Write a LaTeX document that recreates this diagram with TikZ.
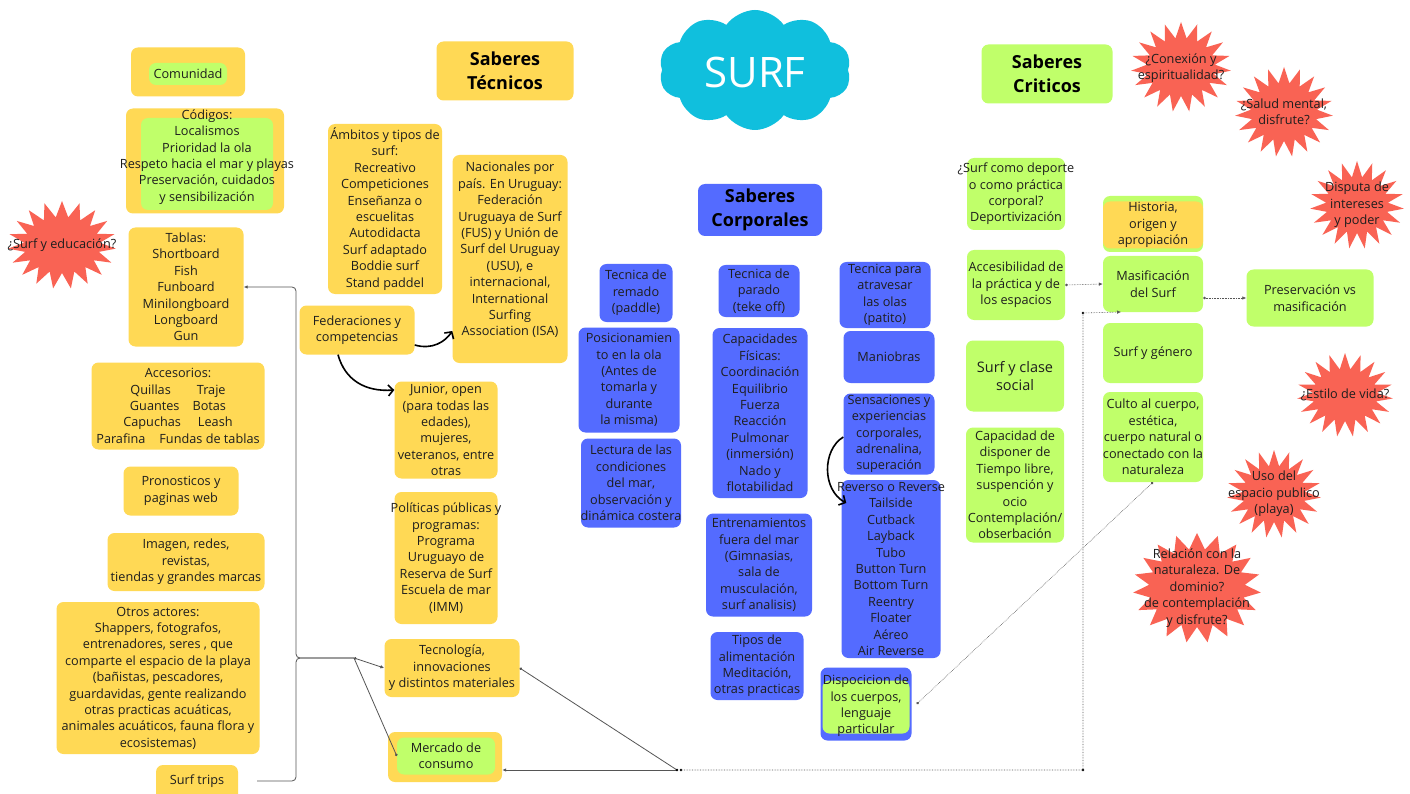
\documentclass[tikz,border=0pt]{standalone}
\usepackage{fontspec}
\setmainfont{Open Sans}
\usetikzlibrary{shapes.symbols,arrows.meta,calc}
\definecolor{yel}{HTML}{FFD955}
\definecolor{grn}{HTML}{C0FF6A}
\definecolor{blu}{HTML}{546BFF}
\definecolor{rdb}{HTML}{F96354}
\definecolor{cld}{HTML}{10BFDD}
\definecolor{ink}{HTML}{1E1E1E}
\definecolor{lin}{HTML}{555555}
\newcommand\fs{\fontsize{12.7}{16.4}\selectfont}
\newcommand\ttlfs{\fontsize{18}{23.5}\selectfont\bfseries}
\newcommand\bx[7]{%
  \node[#1, minimum width=#5pt, minimum height=#6pt] (#2) at (#3,#4) {};
  \node[txt] (#2t) at (#2.center) {#7};}
\tikzset{
  dotend/.tip={Circle[length=2.6pt]},
  arrend/.tip={Latex[length=4pt,width=3.5pt]}
}
\begin{document}
\begin{tikzpicture}[x=1pt,y=-1pt,
  base/.style={rounded corners=7pt, inner sep=0pt, draw=none},
  ybox/.style={base, fill=yel},
  gbox/.style={base, fill=grn},
  bbox/.style={base, fill=blu},
  txt/.style={inner sep=0pt, align=center, font=\fs, text=ink},
  ttl/.style={inner sep=0pt, align=center, font=\ttlfs, text=black},
  burst/.style={starburst, starburst points=19, starburst point height=16pt, random starburst=0, fill=rdb, draw=none, inner sep=0pt},
  con/.style={draw=lin, line width=0.8pt},
  dcon/.style={draw=lin, line width=0.6pt, densely dotted},
  bigarr/.style={draw=black, line width=1.6pt, -{Straight Barb[length=5pt,width=11pt]}}
]
\useasboundingbox (0,0) rectangle (1410,794);
\fill[white] (0,0) rectangle (1410,794);

% cloud
\node[cloud, cloud puffs=10, cloud puff arc=110, aspect=1.6, fill=cld, draw=none, minimum width=192pt, minimum height=120pt] (cloud) at (755,70) {};
\node[text=white, font=\fontsize{42}{42}\selectfont, inner sep=0pt] (surf) at (755,73) {SURF};

% ===== left column =====
\node[ybox, minimum width=114pt, minimum height=49pt] (comunidad) at (188,72) {};
\bx{gbox}{comunidadIn}{188}{74}{78}{22}{Comunidad}

\node[ybox, minimum width=158pt, minimum height=105pt] (codigos) at (205,161) {};
\node[gbox, minimum width=132pt, minimum height=92pt] (codigosIn) at (207,164) {};
\node[txt] (codigost) at (207,157) {Códigos:\\Localismos\\Prioridad la ola\\Respeto hacia el mar y playas\\Preservación, cuidados\\y sensibilización};

\bx{ybox}{tablas}{186}{287}{115}{119}{Tablas:\\Shortboard\\Fish\\Funboard\\Minilongboard\\Longboard\\Gun}
\bx{ybox}{accesorios}{178}{406}{173}{87}{Accesorios:\\Quillas\hspace{26pt}Traje\\Guantes\hspace{13pt}Botas\\Capuchas\hspace{17pt}Leash\\Parafina\hspace{14pt}Fundas de tablas}
\bx{ybox}{pronosticos}{181}{491}{115}{49}{Pronosticos y\\paginas web}
\bx{ybox}{imagen}{186}{562}{157}{58}{Imagen, redes,\\revistas,\\tiendas y grandes marcas}
\bx{ybox}{otros}{158}{678}{203}{152}{Otros actores:\\Shappers, fotografos,\\entrenadores, seres , que\\comparte el espacio de la playa\\(bañistas, pescadores,\\guardavidas, gente realizando\\otras practicas acuáticas,\\animales acuáticos, fauna flora y\\ecosistemas)}
\node[ybox, minimum width=82pt, minimum height=36pt] (surftrips) at (197,783) {};
\node[txt] (surftripst) at (197,781) {Surf trips};

% ===== saberes tecnicos =====
\node[ybox, minimum width=137pt, minimum height=59pt] (tecnicos) at (505,71) {};
\node[ttl] (tecnicost) at (tecnicos.center) {Saberes\\Técnicos};
\bx{ybox}{ambitos}{385}{209}{114}{170}{Ámbitos y tipos de\\surf:\\Recreativo\\Competiciones\\Enseñanza o\\escuelitas\\Autodidacta\\Surf adaptado\\Boddie surf\\Stand paddel}
\bx{ybox}{federaciones}{357}{330}{115}{49}{Federaciones y\\competencias}
\node[ybox, minimum width=115pt, minimum height=208pt] (nacionales) at (510,259) {};
\node[txt] (nacionalest) at (510,250) {Nacionales por\\país. En Uruguay:\\Federación\\Uruguaya de Surf\\(FUS) y Unión de\\Surf del Uruguay\\(USU), e\\internacional,\\International\\Surfing\\Association (ISA)};
\bx{ybox}{junior}{446}{430}{103}{97}{Junior, open\\(para todas las\\edades),\\mujeres,\\veteranos, entre\\otras}
\bx{ybox}{politicas}{446}{558}{103}{132}{Políticas públicas y\\programas:\\Programa\\Uruguayo de\\Reserva de Surf\\Escuela de mar\\(IMM)}
\bx{ybox}{tecnologia}{452}{668}{135}{58}{Tecnología,\\innovaciones\\y distintos materiales}
\node[ybox, minimum width=114pt, minimum height=50pt] (mercado) at (445,757) {};
\bx{gbox}{mercadoIn}{446}{756}{98}{37}{Mercado de\\consumo}

% ===== saberes corporales =====
\node[bbox, minimum width=124pt, minimum height=52pt] (corporales) at (760,210) {};
\node[ttl] (corporalest) at (corporales.center) {Saberes\\Corporales};
\bx{bbox}{remado}{636}{293}{73}{58}{Tecnica de\\remado\\(paddle)}
\bx{bbox}{posicion}{629}{380}{101}{105}{Posicionamien\\to en la ola\\(Antes de\\tomarla y\\durante\\la misma)}
\bx{bbox}{lectura}{631}{483}{100}{89}{Lectura de las\\condiciones\\del mar,\\observación y\\dinámica costera}
\bx{bbox}{parado}{759}{291}{81}{52}{Tecnica de\\parado\\(teke off)}
\bx{bbox}{capacidades}{760}{413}{95}{170}{Capacidades\\Físicas:\\Coordinación\\Equilibrio\\Fuerza\\Reacción\\Pulmonar\\(inmersión)\\Nado y\\flotabilidad}
\bx{bbox}{entrenamientos}{759}{565}{106}{103}{Entrenamientos\\fuera del mar\\(Gimnasias,\\sala de\\musculación,\\surf analisis)}
\bx{bbox}{alimentacion}{757}{666}{93}{68}{Tipos de\\alimentación\\Meditación,\\otras practicas}
\bx{bbox}{atravesar}{885}{295}{91}{66}{Tecnica para\\atravesar\\las olas\\(patito)}
\bx{bbox}{maniobras}{889}{357}{91}{52}{Maniobras}
\bx{bbox}{sensaciones}{889}{434}{91}{81}{Sensaciones y\\experiencias\\corporales,\\adrenalina,\\superación}
\bx{bbox}{reverse}{891}{569}{99}{178}{Reverso o Reverse\\Tailside\\Cutback\\Layback\\Tubo\\Button Turn\\Bottom Turn\\Reentry\\Floater\\Aéreo\\Air Reverse}
\node[bbox, minimum width=91pt, minimum height=73pt] (dispocicion) at (866,704) {};
\node[gbox, minimum width=87pt, minimum height=53pt] (dispocicionIn) at (866,707) {};
\node[txt] (dispociciont) at (866,706) {Dispocicion de\\los cuerpos,\\lenguaje\\particular};

% ===== saberes criticos =====
\node[gbox, minimum width=131pt, minimum height=59pt] (criticos) at (1047,74) {};
\node[ttl] (criticost) at (criticos.center) {Saberes\\Criticos};
\bx{gbox}{deporte}{1016}{194}{98}{72}{¿Surf como deporte\\o como práctica\\corporal?\\Deportivización}
\bx{gbox}{accesibilidad}{1016}{285}{98}{70}{Accesibilidad de\\la práctica y de\\los espacios}
\node[gbox, minimum width=98pt, minimum height=71pt] (clase) at (1015,376) {};
\node[txt, font=\fontsize{14.5}{18.5}\selectfont] (claset) at (clase.center) {Surf y clase\\social};
\bx{gbox}{capacidad}{1015}{485}{98}{115}{Capacidad de\\disponer de\\Tiempo libre,\\suspención y\\ocio\\Contemplación/\\obserbación}
\node[gbox, minimum width=100pt, minimum height=56pt] (historia) at (1153,224) {};
\bx{ybox}{historiaIn}{1153}{225}{100}{47}{Historia,\\origen y\\apropiación}
\bx{gbox}{masificacion}{1153}{284}{100}{56}{Masificación\\del Surf}
\bx{gbox}{genero}{1153}{353}{100}{60}{Surf y género}
\bx{gbox}{culto}{1153}{437}{100}{90}{Culto al cuerpo,\\estética,\\cuerpo natural o\\conectado con la\\naturaleza}
\bx{gbox}{preservacion}{1310}{298}{127}{57}{Preservación vs\\masificación}

% ===== starbursts =====
\node[burst, minimum width=108pt, minimum height=88pt] (educacion) at (62,245) {};
\node[txt] (educaciont) at (educacion.center) {¿Surf y educación?};
\node[burst, minimum width=100pt, minimum height=90pt] (conexion) at (1181,67) {};
\node[txt] (conexiont) at (1181,68) {¿Conexión y\\espiritualidad?};
\node[burst, minimum width=98pt, minimum height=90pt] (salud) at (1284,112) {};
\node[txt] (saludt) at (salud.center) {¿Salud mental,\\disfrute?};
\node[burst, minimum width=94pt, minimum height=88pt] (disputa) at (1357,205) {};
\node[txt] (disputat) at (disputa.center) {Disputa de\\intereses\\y poder};
\node[burst, minimum width=96pt, minimum height=84pt] (estilo) at (1345,395) {};
\node[txt] (estilot) at (estilo.center) {¿Estilo de vida?};
\node[burst, minimum width=94pt, minimum height=88pt] (uso) at (1274,494) {};
\node[txt] (usot) at (uso.center) {Uso del\\espacio publico\\(playa)};
\node[burst, minimum width=128pt, minimum height=110pt] (relacion) at (1197,588) {};
\node[txt] (relaciont) at (relacion.center) {Relación con la\\naturaleza. De\\dominio?\\de contemplación\\y disfrute?};

% ===== connectors =====
\coordinate (j1) at (354,658);
\coordinate (j2) at (677,770);
\coordinate (j3) at (1083,770);
\coordinate (j4) at (1083,313);
\coordinate (masIn) at (1121,312);
\draw[con, rounded corners=4pt, arrend-] (tablas.east) -- (296,287) -- (296,658) -- (j1);
\draw[con, rounded corners=4pt] ([xshift=19pt,yshift=2pt]surftrips.east) -- (296,781) -- (296,658) -- (j1);
\draw[con, dotend-arrend] (j1) -- (tecnologia.west);
\draw[con, -dotend] (j1) -- (mercadoIn.west);
\draw[con, dotend-] (tecnologia.east) -- (j2);
\draw[con, arrend-] ([yshift=-13pt]mercado.east) -- (j2);
\fill[black] (j2) circle (1.4pt) ([xshift=4pt]j2) circle (1.4pt) (j3) circle (1.4pt) (j4) circle (1.4pt);
\draw[dcon, -arrend] ([xshift=4pt]j2) -- (j3) -- (j4) -- (masIn);
\draw[dcon, dotend-arrend] (accesibilidad.east) -- (masificacion.west);
\draw[dcon, dotend-arrend] (masificacion.east |- preservacion.west) -- (preservacion.west);
\draw[dcon, dotend-dotend] ([xshift=5pt]dispocicion.east) -- (culto.south);

\draw[bigarr] ([yshift=-15pt]federaciones.east) .. controls (432,350) and (445,342) .. ([yshift=-72pt]nacionales.west);
\draw[bigarr] ([xshift=-19pt]federaciones.south) .. controls (345,380) and (365,392) .. ([yshift=40pt]junior.west);
\draw[bigarr] ([yshift=-3pt]sensaciones.west) .. controls (822,450) and (822,490) .. ([xshift=5pt,yshift=66pt]reverse.west);
\end{tikzpicture}
\end{document}
